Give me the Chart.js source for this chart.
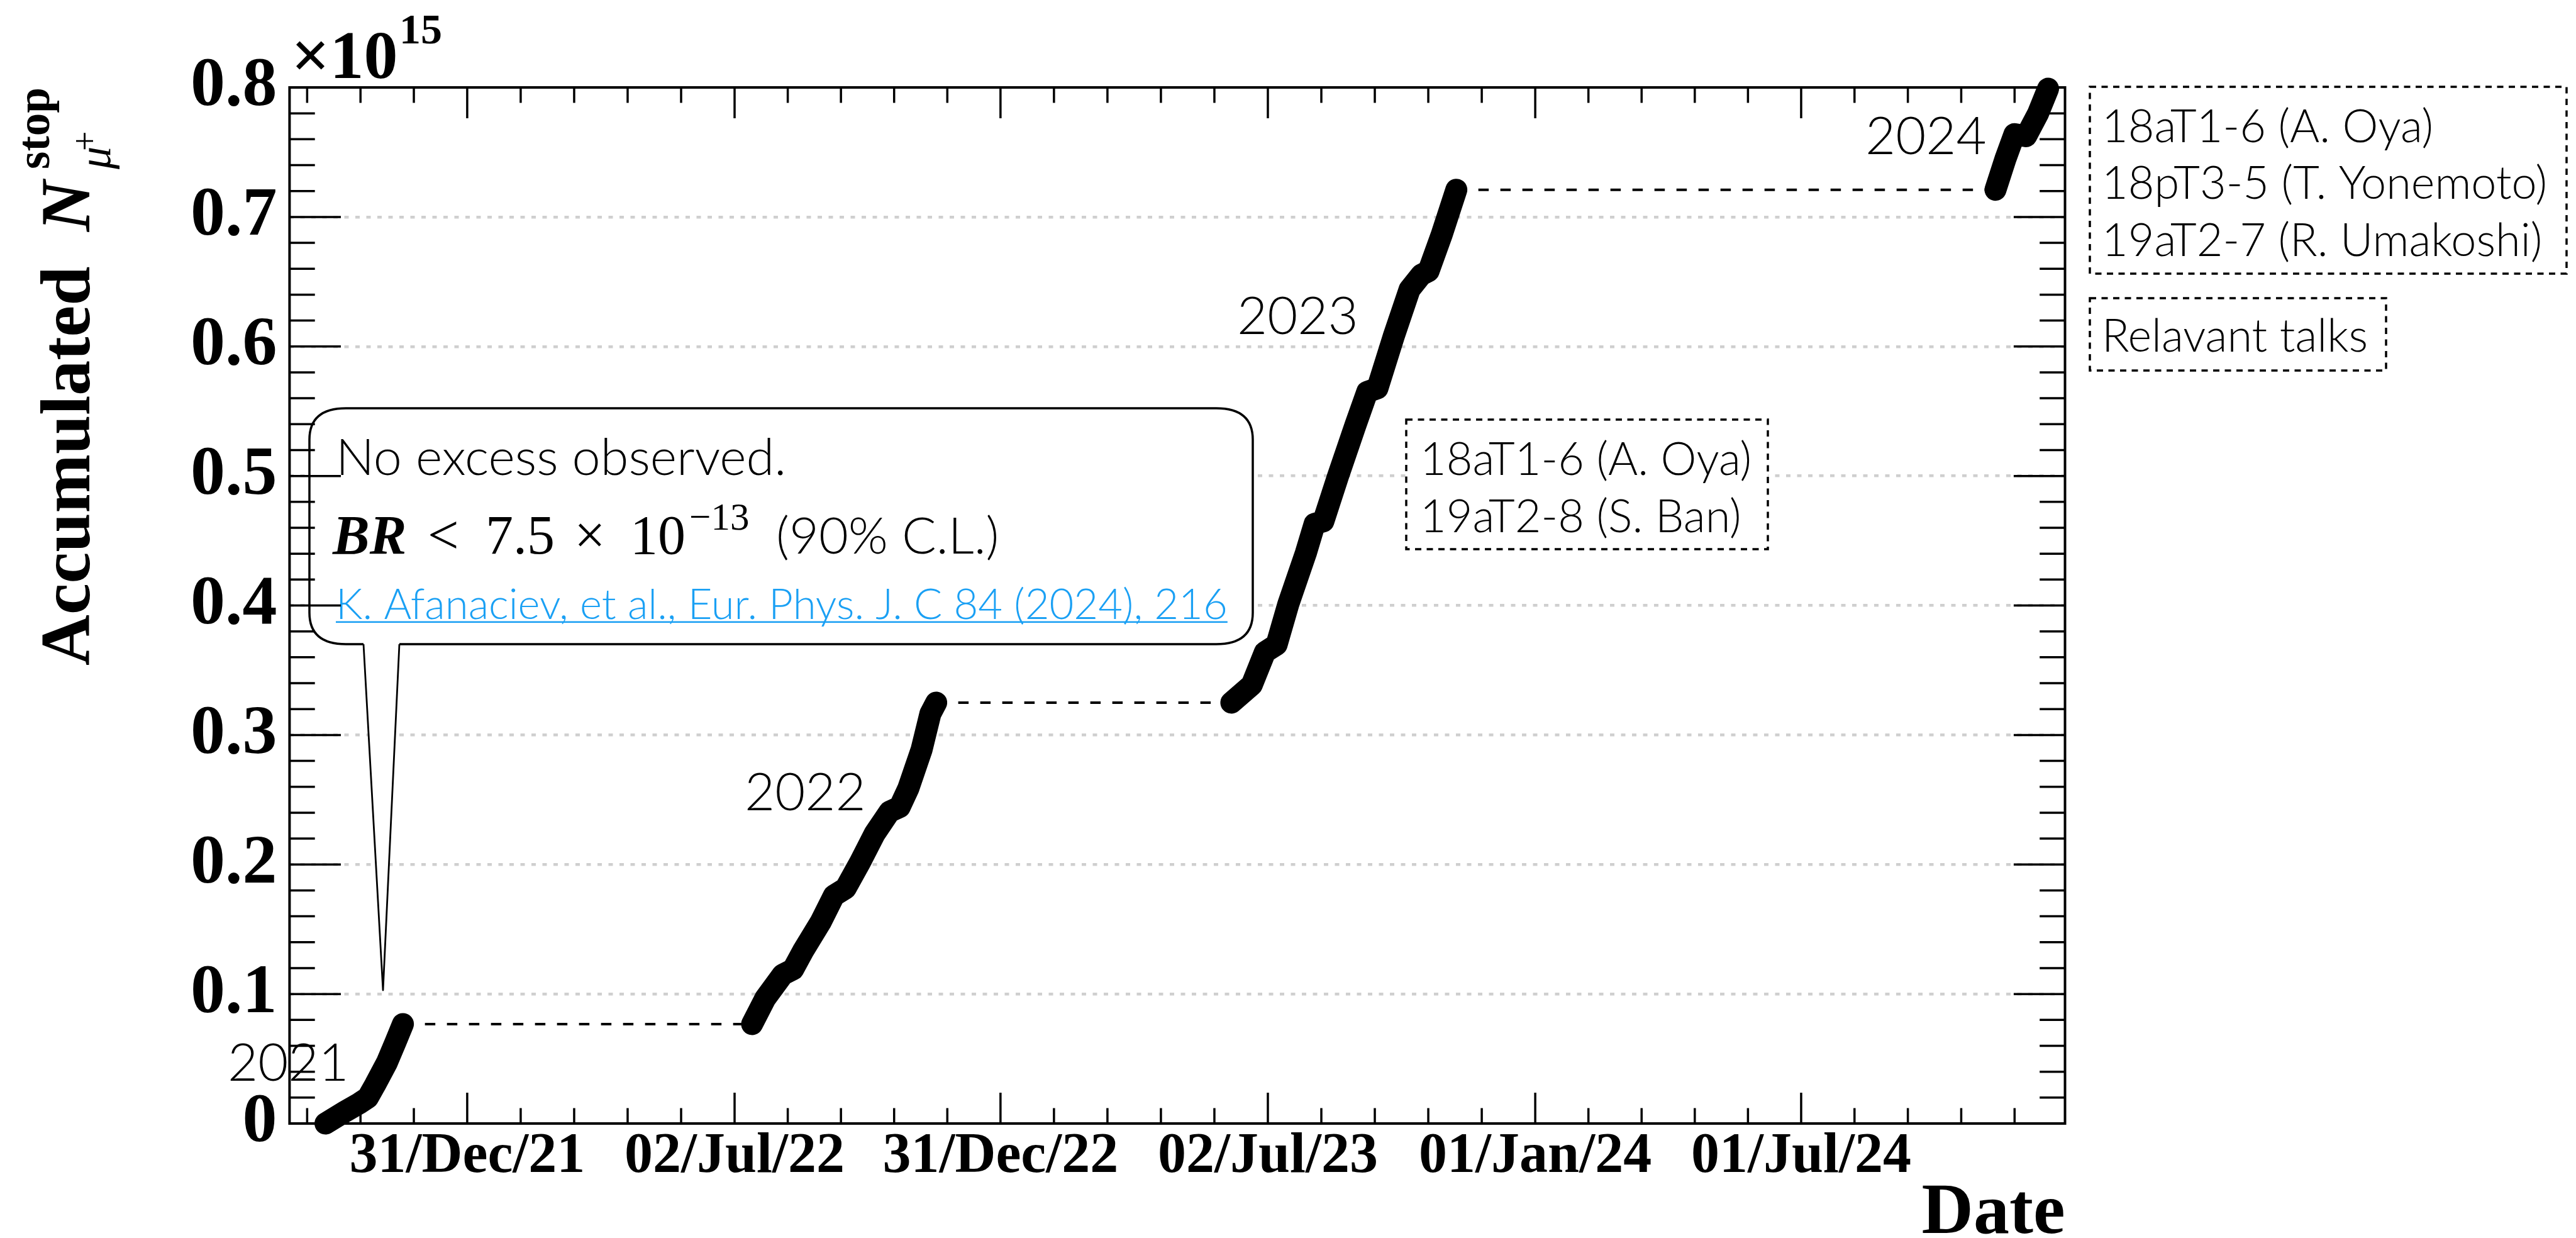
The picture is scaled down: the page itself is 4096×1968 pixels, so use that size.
<!DOCTYPE html>
<html>
<head>
<meta charset="utf-8">
<script src="https://cdn.jsdelivr.net/npm/chart.js@4.4.1/dist/chart.umd.min.js"></script>
<style>
  html, body { margin: 0; padding: 0; background: #ffffff; }
  canvas { display: block; }
</style>
</head>
<body>
<canvas id="chart" width="4096" height="1968"></canvas>
<script>
// Accumulated number of stopped mu+ (in units of 1e15), one array pair per beam period
const run2021Dates  = ['2021-09-25', '2021-10-08', '2021-10-18', '2021-10-24', '2021-10-29', '2021-11-06', '2021-11-12', '2021-11-17'];
const run2021Values = [0.000, 0.009, 0.0155, 0.020, 0.030, 0.047, 0.063, 0.0768];

const run2022Dates  = ['2022-07-14', '2022-07-23', '2022-08-04', '2022-08-11', '2022-08-18', '2022-08-30', '2022-09-08', '2022-09-16',
                       '2022-09-26', '2022-10-06', '2022-10-16', '2022-10-23', '2022-10-29', '2022-11-07', '2022-11-13', '2022-11-17'];
const run2022Values = [0.0768, 0.0966, 0.115, 0.119, 0.1335, 0.1557, 0.176, 0.1816,
                       0.202, 0.224, 0.2407, 0.2444, 0.259, 0.2887, 0.3164, 0.3250];

const run2023Dates  = ['2023-06-07', '2023-06-21', '2023-06-30', '2023-07-08', '2023-07-16', '2023-07-28', '2023-08-03', '2023-08-09',
                       '2023-08-19', '2023-08-31', '2023-09-08', '2023-09-15', '2023-09-26', '2023-10-07', '2023-10-15', '2023-10-20',
                       '2023-10-29', '2023-11-08'];
const run2023Values = [0.3250, 0.3387, 0.364, 0.3698, 0.401, 0.4405, 0.463, 0.465,
                       0.4998, 0.5394, 0.5649, 0.5677, 0.6073, 0.644, 0.6553, 0.6582,
                       0.6864, 0.7210];

const run2024Dates  = ['2024-11-11', '2024-11-18', '2024-11-24', '2024-12-02', '2024-12-10', '2024-12-17'];
const run2024Values = [0.7210, 0.7454, 0.7639, 0.7624, 0.7795, 0.7990];

// Labelled date ticks of the time axis
const xTickDates  = ['2021-12-31', '2022-07-02', '2022-12-31', '2023-07-02', '2024-01-01', '2024-07-01'];
const xTickLabels = ['31/Dec/21', '02/Jul/22', '31/Dec/22', '02/Jul/23', '01/Jan/24', '01/Jul/24'];

// Value axis (x 1e15)
const yTickValues = [0, 0.1, 0.2, 0.3, 0.4, 0.5, 0.6, 0.7, 0.8];

const runLabels = ['2021', '2022', '2023', '2024'];

// ---------------------------------------------------------------------------
const DAY_MS = 86400000;
const dayOf = s => Date.parse(s + 'T00:00:00Z') / DAY_MS;
const X_MIN = dayOf('2021-09-01') - 0.6;
const X_MAX = dayOf('2024-12-29') - 0.4;
const Y_MIN = yTickValues[0];
const Y_MAX = yTickValues[yTickValues.length - 1];

const SERIF = '"Liberation Serif", "Times New Roman", serif';
const SANS = 'Lato, "Open Sans", sans-serif';

const runs = [
  { dates: run2021Dates, values: run2021Values },
  { dates: run2022Dates, values: run2022Values },
  { dates: run2023Dates, values: run2023Values },
  { dates: run2024Dates, values: run2024Values }
];

const toPoints = (dates, values) => dates.map((d, i) => ({ x: dayOf(d), y: values[i] }));

const runDatasets = runs.map((r, i) => ({
  label: runLabels[i],
  data: toPoints(r.dates, r.values),
  borderColor: '#000000',
  borderWidth: 35,
  borderCapStyle: 'round',
  borderJoinStyle: 'round',
  pointRadius: 0,
  pointHoverRadius: 0,
  tension: 0,
  fill: false,
  clip: false,
  order: 0
}));

// flat dashed segments bridging the shutdown between consecutive periods
const bridgeDatasets = runs.slice(1).map((r, i) => {
  const prev = runs[i];
  const level = prev.values[prev.values.length - 1];
  return {
    label: 'shutdown ' + runLabels[i],
    data: [
      { x: dayOf(prev.dates[prev.dates.length - 1]), y: level },
      { x: dayOf(r.dates[0]), y: level }
    ],
    borderColor: '#000000',
    borderWidth: 4,
    borderDash: [16.5, 18.5],
    pointRadius: 0,
    pointHoverRadius: 0,
    tension: 0,
    fill: false,
    clip: false,
    order: 1
  };
});

// ---------------------------------------------------------------------------
function dashedBox(ctx, l, t, r, b) {
  ctx.save();
  ctx.fillStyle = '#ffffff';
  ctx.fillRect(l, t, r - l, b - t);
  ctx.setLineDash([10, 8.5]);
  ctx.lineWidth = 3.5;
  ctx.strokeStyle = '#000000';
  ctx.strokeRect(l, t, r - l, b - t);
  ctx.restore();
}

function bubblePath(ctx, l, t, r, b, rx, ry, tailL, tailR, tipX, tipY, closeTail) {
  ctx.beginPath();
  ctx.moveTo(tailL, b);
  ctx.lineTo(l + rx, b);
  ctx.quadraticCurveTo(l, b, l, b - ry);
  ctx.lineTo(l, t + ry);
  ctx.quadraticCurveTo(l, t, l + rx, t);
  ctx.lineTo(r - rx, t);
  ctx.quadraticCurveTo(r, t, r, t + ry);
  ctx.lineTo(r, b - ry);
  ctx.quadraticCurveTo(r, b, r - rx, b);
  ctx.lineTo(tailR, b);
  if (closeTail) {
    ctx.lineTo(tipX, tipY);
    ctx.closePath();
  }
}

function drawCallout(ctx) {
  const l = 492, t = 649, r = 1992, b = 1024;
  const tailL = 578, tailR = 635, tipX = 609, tipY = 1574;
  ctx.save();
  ctx.fillStyle = '#ffffff';
  bubblePath(ctx, l, t, r, b, 58, 50, tailL, tailR, tipX, tipY, true);
  ctx.fill();
  ctx.strokeStyle = '#000000';
  ctx.lineJoin = 'round';
  ctx.lineWidth = 3.5;
  bubblePath(ctx, l, t, r, b, 58, 50, tailL, tailR, tipX, tipY, false);
  ctx.stroke();
  ctx.lineWidth = 2.8;
  ctx.beginPath();
  ctx.moveTo(tailL, b);
  ctx.lineTo(tipX, tipY);
  ctx.lineTo(tailR, b);
  ctx.stroke();

  ctx.fillStyle = '#000000';
  ctx.textAlign = 'left';
  ctx.textBaseline = 'alphabetic';
  ctx.font = '300 81px ' + SANS;
  ctx.fillText('No excess observed.', 534, 755);

  ctx.font = 'italic bold 88px ' + SERIF;
  ctx.fillText('BR', 529, 880);
  ctx.font = '88px ' + SERIF;
  ctx.fillText('<', 680, 880);
  ctx.fillText('7.5', 772, 880);
  ctx.fillText('\u00D7', 913, 880);
  ctx.fillText('10', 1002, 880);
  ctx.font = '61px ' + SERIF;
  ctx.fillText('\u221213', 1096, 842);
  ctx.font = '300 81px ' + SANS;
  ctx.fillText('(90% C.L.)', 1234, 880);

  const ref = 'K. Afanaciev, et al., Eur. Phys. J. C 84 (2024), 216';
  ctx.fillStyle = '#1aa0f4';
  ctx.font = '300 67px ' + SANS;
  ctx.fillText(ref, 534, 984);
  const w = ctx.measureText(ref).width;
  ctx.fillRect(534, 987.5, w, 2.6);
  ctx.restore();
}

const decorPlugin = {
  id: 'decor',
  afterDatasetsDraw(chart) {
    const ctx = chart.ctx;
    drawCallout(ctx);

    // talk references inside the frame
    dashedBox(ctx, 2236, 667, 2811, 873);
    ctx.save();
    ctx.fillStyle = '#000000';
    ctx.textAlign = 'left';
    ctx.textBaseline = 'alphabetic';
    ctx.font = '300 72px ' + SANS;
    ctx.fillText('18aT1-6 (A. Oya)', 2258, 755);
    ctx.fillText('19aT2-8 (S. Ban)', 2258, 846);

    // period labels
    ctx.font = '300 83px ' + SANS;
    ctx.fillText(runLabels[0], 362, 1718);
    ctx.fillText(runLabels[1], 1184, 1288);
    ctx.fillText(runLabels[2], 1967, 531);
    ctx.fillText(runLabels[3], 2966, 245);
    ctx.restore();
  },
  afterDraw(chart) {
    const ctx = chart.ctx;
    const a = chart.chartArea;
    const xs = chart.scales.x;
    const ys = chart.scales.y;
    ctx.save();
    ctx.strokeStyle = '#000000';
    ctx.setLineDash([]);

    // time axis ticks: labelled majors, 4 minors in between
    const majors = xTickDates.map(dayOf);
    const minors = [];
    for (let i = 0; i < majors.length - 1; i++) {
      for (let k = 1; k < 5; k++) minors.push(majors[i] + (majors[i + 1] - majors[i]) * k / 5);
    }
    const step = (majors[majors.length - 1] - majors[0]) / (majors.length - 1) / 5;
    for (let v = majors[0] - step; v > X_MIN; v -= step) minors.push(v);
    for (let v = majors[majors.length - 1] + step; v < X_MAX; v += step) minors.push(v);

    ctx.lineWidth = 3.5;
    ctx.beginPath();
    const xTick = (v, len) => {
      const px = xs.getPixelForValue(v);
      ctx.moveTo(px, a.bottom); ctx.lineTo(px, a.bottom - len);
      ctx.moveTo(px, a.top); ctx.lineTo(px, a.top + len);
    };
    majors.forEach(v => xTick(v, 49));
    minors.forEach(v => xTick(v, 24.6));

    // value axis ticks, both sides
    const yStep = (yTickValues[1] - yTickValues[0]) / 5;
    const nY = Math.round((Y_MAX - Y_MIN) / yStep);
    for (let i = 0; i <= nY; i++) {
      const v = Y_MIN + i * yStep;
      const len = (i % 5 === 0) ? 81.6 : 40.3;
      const py = ys.getPixelForValue(v);
      ctx.moveTo(a.left, py); ctx.lineTo(a.left + len, py);
      ctx.moveTo(a.right, py); ctx.lineTo(a.right - len, py);
    }
    ctx.stroke();

    // frame
    ctx.lineWidth = 4;
    ctx.strokeRect(a.left, a.top, a.right - a.left, a.bottom - a.top);

    // exponent
    ctx.fillStyle = '#000000';
    ctx.textAlign = 'left';
    ctx.textBaseline = 'alphabetic';
    ctx.font = 'bold 108px ' + SERIF;
    ctx.fillText('\u00D710', 463, 124);
    ctx.font = 'bold 68px ' + SERIF;
    ctx.fillText('15', 635, 69);

    // axis titles
    ctx.font = 'bold 114px ' + SERIF;
    ctx.textAlign = 'right';
    ctx.fillText('Date', a.right, 1960);

    ctx.translate(142, 1058);
    ctx.rotate(-Math.PI / 2);
    ctx.textAlign = 'left';
    ctx.font = 'bold 112px ' + SERIF;
    ctx.fillText('Accumulated', 0, 0);
    ctx.font = 'italic bold 112px ' + SERIF;
    ctx.fillText('N', 690, 0);
    ctx.font = 'bold 73px ' + SERIF;
    ctx.fillText('stop', 789, -64);
    ctx.font = 'italic 72px ' + SERIF;
    ctx.fillText('\u03BC', 789, 33);
    ctx.font = '56px ' + SERIF;
    ctx.fillText('+', 818, 12);
    ctx.restore();

    // talk references beside the frame
    dashedBox(ctx, 3323, 138, 4081, 435);
    dashedBox(ctx, 3323, 474, 3794, 589);
    ctx.save();
    ctx.fillStyle = '#000000';
    ctx.textAlign = 'left';
    ctx.textBaseline = 'alphabetic';
    ctx.font = '300 72px ' + SANS;
    ctx.fillText('18aT1-6 (A. Oya)', 3342, 226);
    ctx.fillText('18pT3-5 (T. Yonemoto)', 3342, 316);
    ctx.fillText('19aT2-7 (R. Umakoshi)', 3342, 407);
    ctx.fillText('Relavant talks', 3342, 559);
    ctx.restore();
  }
};

new Chart(document.getElementById('chart'), {
  type: 'line',
  data: { datasets: runDatasets.concat(bridgeDatasets) },
  options: {
    responsive: false,
    animation: false,
    devicePixelRatio: 1,
    events: [],
    layout: { padding: { left: 0, top: 139, right: 812.5, bottom: 0 } },
    plugins: { legend: { display: false }, tooltip: { enabled: false }, title: { display: false } },
    scales: {
      x: {
        type: 'linear',
        min: X_MIN,
        max: X_MAX,
        grid: { display: false, drawTicks: false },
        border: { display: false },
        afterBuildTicks: s => { s.ticks = xTickDates.map(d => ({ value: dayOf(d) })); },
        afterFit: s => { s.height = 182; },
        ticks: {
          autoSkip: false,
          maxRotation: 0,
          minRotation: 0,
          padding: 0,
          color: '#000000',
          font: { family: SERIF, size: 90, weight: 'bold' },
          callback: (v, i) => xTickLabels[i]
        }
      },
      y: {
        type: 'linear',
        min: Y_MIN,
        max: Y_MAX,
        afterBuildTicks: s => { s.ticks = yTickValues.map(v => ({ value: v })); },
        afterFit: s => { s.width = 460.4; },
        grid: {
          drawTicks: false,
          lineWidth: 4.5,
          color: c => (c.tick && (c.tick.value === Y_MIN || c.tick.value === Y_MAX)) ? 'rgba(0,0,0,0)' : '#cfcfcf'
        },
        border: { display: false, dash: [7, 10.5] },
        ticks: {
          padding: 20,
          color: '#000000',
          font: { family: SERIF, size: 110, weight: 'bold' },
          callback: v => (v === 0 ? '0' : v.toFixed(1))
        }
      }
    }
  },
  plugins: [decorPlugin]
});
</script>
</body>
</html>
